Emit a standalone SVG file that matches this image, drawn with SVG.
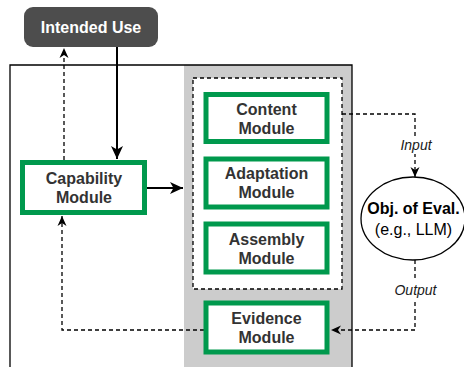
<svg xmlns="http://www.w3.org/2000/svg" width="464" height="367" viewBox="0 0 464 367">
<style>
.mod{fill:#ffffff;stroke:#00994d;stroke-width:5}
.mt{font-family:"Liberation Sans",Arial,sans-serif;font-size:16px;font-weight:bold;fill:#333333;text-anchor:middle}
.dash{fill:none;stroke:#000;stroke-width:1.3;stroke-dasharray:4 3}
.solid{fill:none;stroke:#000;stroke-width:2}
.lbl{font-family:"Liberation Sans",Arial,sans-serif;font-size:14px;font-style:italic;fill:#1a1a1a;text-anchor:middle}
</style>
<defs>
<marker id="ah" markerUnits="userSpaceOnUse" markerWidth="14" markerHeight="14" viewBox="0 0 14 14" refX="13" refY="7" orient="auto">
<path d="M0,1 L13,7 L0,13 L3.5,7 Z" fill="#000"/>
</marker>
<marker id="ahs" markerUnits="userSpaceOnUse" markerWidth="11" markerHeight="11" viewBox="0 0 11 11" refX="10" refY="5.5" orient="auto">
<path d="M0,1 L10,5.5 L0,10 L3,5.5 Z" fill="#000"/>
</marker>
</defs>
<rect width="464" height="367" fill="#ffffff"/>
<g id="frame">
<rect x="184" y="65" width="168" height="302" fill="#cccccc"/>
<path d="M10,367 V65 H352 V367" fill="none" stroke="#000" stroke-width="1.3"/>
<rect x="193" y="78" width="149" height="211" fill="#ffffff" stroke="#000" stroke-width="1.3" stroke-dasharray="4 3"/>
</g>
<g id="connectors">
<path class="solid" d="M117,47 V159" marker-end="url(#ah)"/>
<path class="solid" d="M147,188 H183" marker-end="url(#ah)"/>
<path class="dash" d="M64,160 V48" marker-end="url(#ahs)"/>
<path class="dash" d="M204,330 H62 V216" marker-end="url(#ahs)"/>
<path class="dash" d="M342,114 H415 V177" marker-end="url(#ahs)"/>
<path class="dash" d="M415,260 V330 H331" marker-end="url(#ahs)"/>
<rect x="398" y="136" width="36" height="18" fill="#ffffff"/>
<text class="lbl" x="416" y="150">Input</text>
<rect x="392" y="281" width="47" height="18" fill="#ffffff"/>
<text class="lbl" x="415.5" y="295">Output</text>
</g>
<g id="intended-use">
<rect x="24" y="7" width="134" height="40" rx="9" fill="#4d4d4d"/>
<text x="91" y="32.5" font-family="Liberation Sans,Arial,sans-serif" font-size="16" font-weight="bold" fill="#ffffff" text-anchor="middle">Intended Use</text>
</g>
<g id="capability">
<rect class="mod" x="22.5" y="162.5" width="122" height="50"/>
<text class="mt" x="84" y="184">Capability</text>
<text class="mt" x="84" y="203">Module</text>
</g>
<g id="content">
<rect class="mod" x="206" y="94.5" width="121" height="47"/>
<text class="mt" x="266.5" y="114.5">Content</text>
<text class="mt" x="266.5" y="133.5">Module</text>
</g>
<g id="adaptation">
<rect class="mod" x="206" y="159" width="121" height="48"/>
<text class="mt" x="266.5" y="179">Adaptation</text>
<text class="mt" x="266.5" y="198">Module</text>
</g>
<g id="assembly">
<rect class="mod" x="206" y="224" width="121" height="48"/>
<text class="mt" x="266.5" y="245">Assembly</text>
<text class="mt" x="266.5" y="264">Module</text>
</g>
<g id="evidence">
<rect class="mod" x="206" y="303" width="121" height="49"/>
<text class="mt" x="266.5" y="324">Evidence</text>
<text class="mt" x="266.5" y="343">Module</text>
</g>
<g id="object-of-eval">
<ellipse cx="413" cy="218.5" rx="52" ry="41.5" fill="#ffffff" stroke="#000" stroke-width="1.3"/>
<text x="413.5" y="214" font-family="Liberation Sans,Arial,sans-serif" font-size="16" font-weight="bold" fill="#000" text-anchor="middle">Obj. of Eval.</text>
<text x="413.5" y="235" font-family="Liberation Sans,Arial,sans-serif" font-size="16" fill="#000" text-anchor="middle">(e.g., LLM)</text>
</g>
</svg>
